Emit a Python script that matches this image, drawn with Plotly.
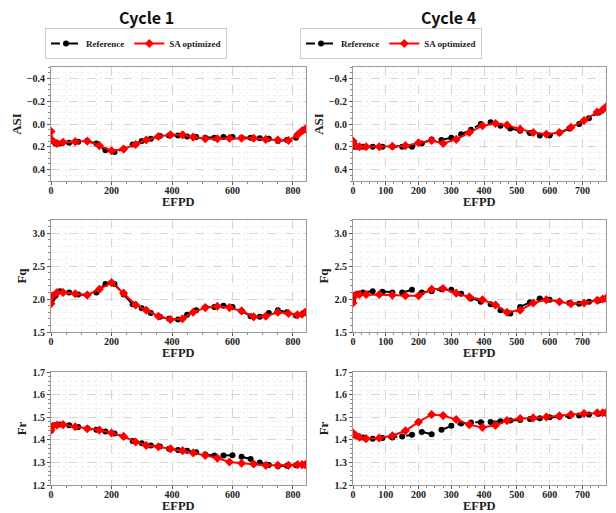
import plotly.graph_objects as go

# ---------------- DATA ----------------
c1_ref_x = [0, 5, 15, 30, 60, 90, 120, 150, 180, 210, 240, 270, 300, 330, 360, 390, 420, 450,
            480, 510, 540, 570, 600, 630, 660, 690, 720, 750, 780, 810, 840]
c1_sa_x = [0, 5, 20, 40, 80, 120, 160, 200, 240, 280, 315, 355, 395, 435, 470, 510, 550, 590,
           630, 670, 710, 750, 785, 815, 830, 840]
c4_ref_x = [0, 5, 15, 30, 60, 90, 120, 150, 180, 210, 240, 270, 300, 330, 360, 390, 420, 450,
            480, 510, 540, 570, 600, 630, 660, 690, 720, 750, 770]
c4_sa_x = [0, 8, 20, 40, 80, 120, 160, 200, 240, 275, 315, 355, 395, 435, 470, 510, 550, 590,
           630, 665, 705, 745, 762, 772]

c1_asi_ref = [0.14, 0.15, 0.17, 0.17, 0.165, 0.155, 0.15, 0.17, 0.23, 0.245, 0.22, 0.18, 0.15,
              0.13, 0.105, 0.1, 0.1, 0.11, 0.115, 0.12, 0.12, 0.115, 0.115, 0.12, 0.12, 0.125,
              0.13, 0.15, 0.14, 0.12, 0.05]
c1_asi_sa = [0.065, 0.145, 0.17, 0.16, 0.155, 0.15, 0.19, 0.235, 0.22, 0.18, 0.14, 0.11, 0.095,
             0.095, 0.115, 0.13, 0.13, 0.125, 0.125, 0.125, 0.135, 0.14, 0.145, 0.095, 0.06, 0.045]
c4_asi_ref = [0.19, 0.2, 0.2, 0.2, 0.2, 0.2, 0.2, 0.2, 0.2, 0.17, 0.135, 0.14, 0.12, 0.09, 0.05,
              0.0, -0.015, 0.015, 0.04, 0.06, 0.08, 0.1, 0.1, 0.08, 0.04, 0.0, -0.05, -0.1, -0.14]
c4_asi_sa = [0.15, 0.19, 0.2, 0.2, 0.2, 0.195, 0.19, 0.165, 0.145, 0.17, 0.135, 0.075, 0.015,
             -0.005, 0.01, 0.045, 0.075, 0.09, 0.075, 0.03, -0.03, -0.105, -0.125, -0.15]

c1_fq_ref = [1.95, 2.0, 2.05, 2.12, 2.1, 2.07, 2.06, 2.1, 2.23, 2.23, 2.07, 1.92, 1.86, 1.79,
             1.73, 1.70, 1.69, 1.76, 1.83, 1.87, 1.88, 1.9, 1.88, 1.82, 1.74, 1.73, 1.79, 1.83,
             1.8, 1.75, 1.79]
c1_fq_sa = [1.93, 2.05, 2.1, 2.1, 2.08, 2.06, 2.15, 2.25, 2.09, 1.91, 1.83, 1.74, 1.69, 1.70,
            1.80, 1.87, 1.89, 1.87, 1.82, 1.73, 1.74, 1.80, 1.78, 1.76, 1.77, 1.80]
c4_fq_ref = [1.97, 2.06, 2.08, 2.1, 2.12, 2.11, 2.1, 2.1, 2.14, 2.1, 2.12, 2.15, 2.14, 2.08,
             2.01, 1.96, 1.92, 1.83, 1.78, 1.88, 1.95, 2.01, 1.99, 1.96, 1.94, 1.93, 1.96, 1.98,
             2.0]
c4_fq_sa = [1.94, 2.06, 2.07, 2.07, 2.07, 2.06, 2.05, 2.05, 2.15, 2.16, 2.09, 2.03, 1.99, 1.91,
            1.80, 1.83, 1.94, 1.99, 1.96, 1.93, 1.94, 1.98, 2.0, 2.01]

c1_fr_ref = [1.44, 1.46, 1.465, 1.468, 1.464, 1.457, 1.45, 1.445, 1.437, 1.428, 1.414, 1.395,
             1.385, 1.375, 1.37, 1.36, 1.355, 1.352, 1.345, 1.335, 1.33, 1.33, 1.332, 1.325,
             1.315, 1.3, 1.288, 1.283, 1.285, 1.287, 1.29]
c1_fr_sa = [1.442, 1.46, 1.465, 1.467, 1.458, 1.449, 1.443, 1.43, 1.415, 1.39, 1.375, 1.369,
            1.36, 1.352, 1.342, 1.331, 1.319, 1.302, 1.296, 1.293, 1.287, 1.287, 1.287, 1.29,
            1.29, 1.29]
c4_fr_ref = [1.425, 1.42, 1.415, 1.41, 1.405, 1.408, 1.41, 1.415, 1.422, 1.435, 1.425, 1.445,
             1.462, 1.472, 1.477, 1.478, 1.479, 1.482, 1.485, 1.488, 1.492, 1.495, 1.5, 1.502,
             1.505, 1.508, 1.512, 1.515, 1.517]
c4_fr_sa = [1.43, 1.42, 1.411, 1.405, 1.408, 1.418, 1.44, 1.479, 1.512, 1.507, 1.49, 1.467,
            1.455, 1.464, 1.485, 1.494, 1.497, 1.501, 1.506, 1.512, 1.516, 1.519, 1.52, 1.52]

col_titles = ["Cycle 1", "Cycle 4"]
row_labels = ["ASI", "Fq", "Fr"]
x_label = "EFPD"
series_names = ["Reference", "SA optimized"]

# ---------------- LAYOUT ----------------
W, H = 616, 513
col_px = [(51, 306), (353, 606)]
row_px = [(67, 181), (220, 332), (372, 485)]

serif = "Liberation Serif"
fig = go.Figure()

data = {
    (0, 0): (c1_ref_x, c1_asi_ref, c1_sa_x, c1_asi_sa),
    (0, 1): (c4_ref_x, c4_asi_ref, c4_sa_x, c4_asi_sa),
    (1, 0): (c1_ref_x, c1_fq_ref, c1_sa_x, c1_fq_sa),
    (1, 1): (c4_ref_x, c4_fq_ref, c4_sa_x, c4_fq_sa),
    (2, 0): (c1_ref_x, c1_fr_ref, c1_sa_x, c1_fr_sa),
    (2, 1): (c4_ref_x, c4_fr_ref, c4_sa_x, c4_fr_sa),
}

y_specs = [
    dict(range=[0.5, -0.5], tickvals=[-0.4, -0.2, 0.0, 0.2, 0.4],
         ticktext=["\u22120.4", "\u22120.2", "0.0", "0.2", "0.4"], minor_dtick=0.05),
    dict(range=[1.5, 3.2], tickvals=[1.5, 2.0, 2.5, 3.0],
         ticktext=["1.5", "2.0", "2.5", "3.0"], minor_dtick=0.1),
    dict(range=[1.2, 1.7], tickvals=[1.2, 1.3, 1.4, 1.5, 1.6, 1.7],
         ticktext=["1.2", "1.3", "1.4", "1.5", "1.6", "1.7"], minor_dtick=0.02),
]
x_specs = [
    dict(range=[0, 843], dtick=200, minor_dtick=50),
    dict(range=[0, 772], dtick=100, minor_dtick=25),
]

tickfont = dict(family=serif, size=10, color="#222", weight="bold")
titlefont = dict(family=serif, size=13, color="#222", weight="bold")
xtitlefont = dict(family=serif, size=12.5, color="#222", weight="bold")

annotations = []
idx = 0
for r in range(3):
    for c in range(2):
        idx += 1
        xa = "x" if idx == 1 else f"x{idx}"
        ya = "y" if idx == 1 else f"y{idx}"
        rx, ry, sx, sy = data[(r, c)]
        leg = "legend" if c == 0 else "legend2"
        fig.add_trace(go.Scatter(
            x=rx, y=ry, mode="lines+markers", name=series_names[0],
            line=dict(color="black", width=2, dash="dash"),
            marker=dict(symbol="circle", size=6, color="black"),
            xaxis=xa, yaxis=ya, legend=leg, showlegend=(r == 0)))
        fig.add_trace(go.Scatter(
            x=sx, y=sy, mode="lines+markers", name=series_names[1],
            line=dict(color="#ff0000", width=2),
            marker=dict(symbol="diamond", size=7, color="#ff0000"),
            xaxis=xa, yaxis=ya, legend=leg, showlegend=(r == 0)))

        x0, x1 = col_px[c]
        y0, y1 = row_px[r]
        xs = x_specs[c]
        ys = y_specs[r]
        common = dict(showline=True, linecolor="#999", linewidth=1, mirror=True,
                      ticks="outside", ticklen=3, tickcolor="#555", tickfont=tickfont,
                      showgrid=True, gridcolor="#d6d6d6", griddash="dash", gridwidth=1,
                      zeroline=False, automargin=False)
        fig.layout[f"xaxis{'' if idx == 1 else idx}"] = dict(
            domain=[x0 / W, x1 / W], anchor=ya, range=xs["range"], dtick=xs["dtick"],
            tick0=0, ticklabelstandoff=-3,
            minor=dict(dtick=xs["minor_dtick"], ticks="outside", ticklen=2, tickcolor="#888",
                       showgrid=True, gridcolor="#efefef", griddash="dot"),
            **common)
        fig.layout[f"yaxis{'' if idx == 1 else idx}"] = dict(
            domain=[1 - y1 / H, 1 - y0 / H], anchor=xa, range=ys["range"],
            tickvals=ys["tickvals"], ticktext=ys["ticktext"],
            title=dict(text=row_labels[r], font=titlefont, standoff=2),
            minor=dict(dtick=ys["minor_dtick"], ticks="outside", ticklen=2, tickcolor="#888",
                       showgrid=True, gridcolor="#efefef", griddash="dot"),
            **common)
        annotations.append(dict(
            text=x_label, x=(x0 + x1) / 2 / W, y=1 - (y1 + 20.5) / H, xref="paper",
            yref="paper", xanchor="center", yanchor="middle", showarrow=False,
            font=xtitlefont))

for i, t in enumerate(col_titles):
    annotations.append(dict(
        text=t, x=[146, 448][i] / W, y=1 - 17 / H, xref="paper", yref="paper",
        xanchor="center", yanchor="middle", showarrow=False,
        font=dict(family="Noto Sans CJK KR", size=16, color="#111", weight="bold")))

legfont = dict(family=serif, size=9, color="#222", weight="bold")
legcommon = dict(orientation="h", xanchor="center", yanchor="middle", font=legfont,
                 bordercolor="#ccc", borderwidth=1, bgcolor="white", itemwidth=30,
                 tracegroupgap=0)
fig.update_layout(
    width=W, height=H,
    margin=dict(l=0, r=0, t=0, b=0, autoexpand=False),
    paper_bgcolor="white", plot_bgcolor="white",
    legend=dict(x=136 / W, y=1 - 43.5 / H, **legcommon),
    legend2=dict(x=391 / W, y=1 - 43.5 / H, **legcommon),
    annotations=annotations,
)

fig.write_html("out.html", config={"displayModeBar": False},
               post_script="document.body.style.margin='0';")
